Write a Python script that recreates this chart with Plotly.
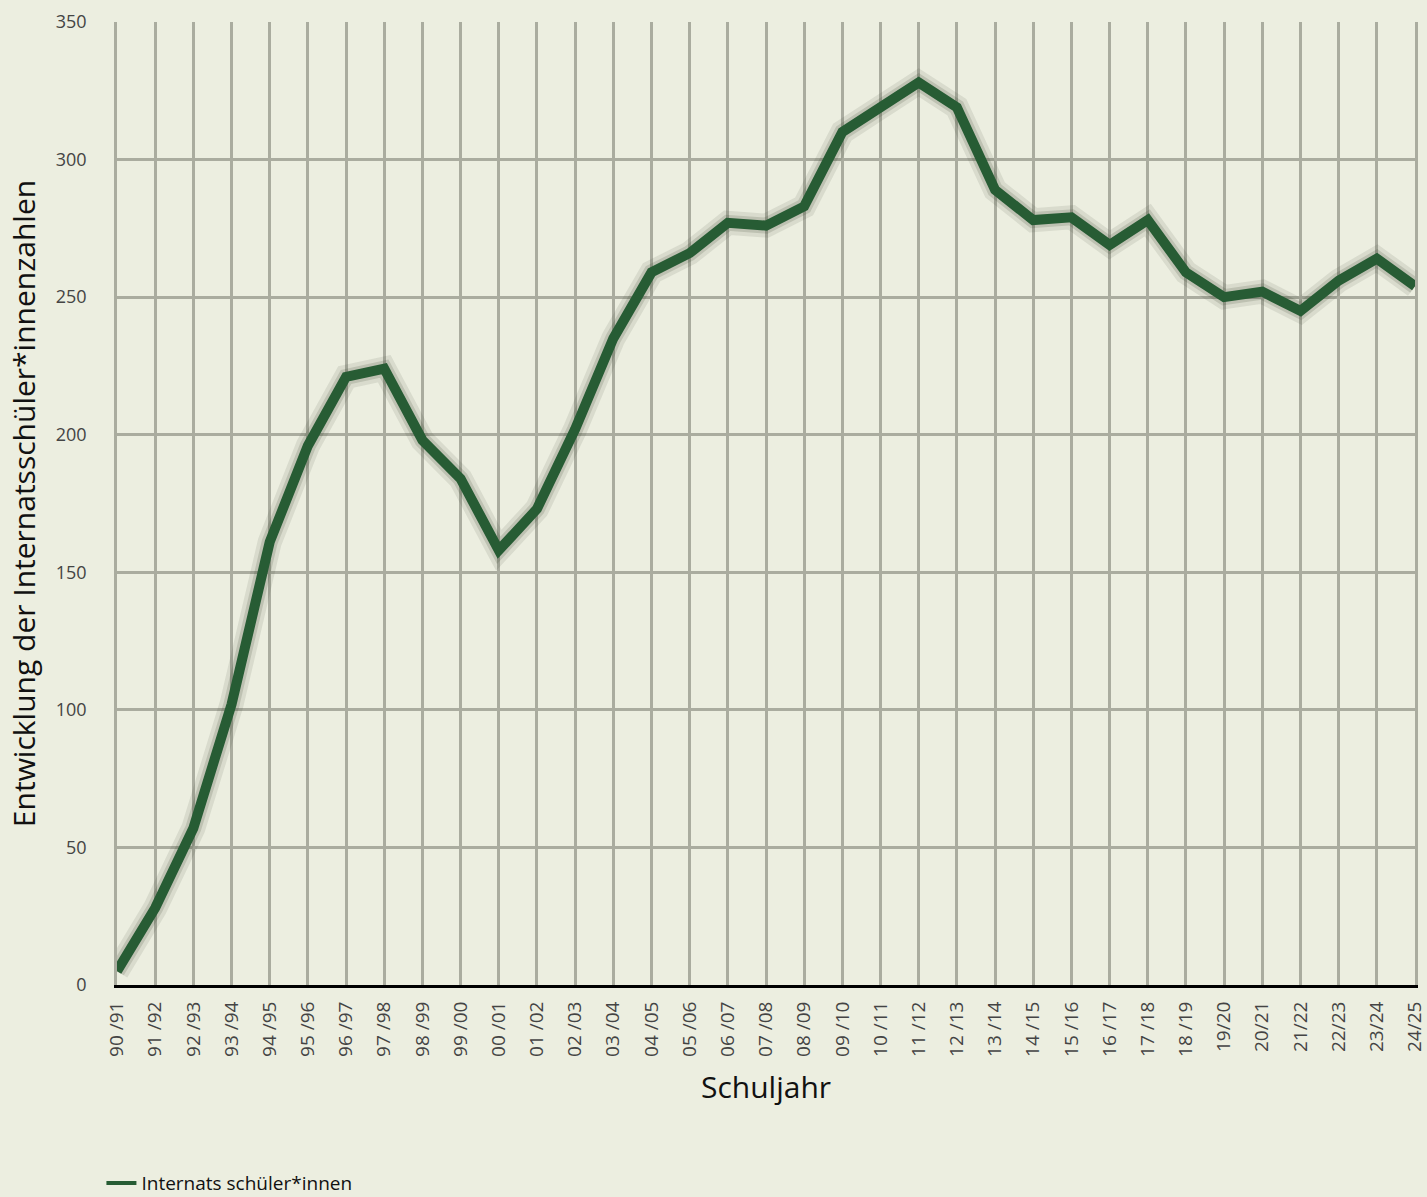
import plotly.graph_objects as go

schuljahre = ["90 /91", "91 /92", "92 /93", "93 /94", "94 /95", "95 /96", "96 /97", "97 /98",
              "98 /99", "99 /00", "00 /01", "01 /02", "02 /03", "03 /04", "04 /05", "05 /06",
              "06 /07", "07 /08", "08 /09", "09 /10", "10 /11", "11 /12", "12 /13", "13 /14",
              "14 /15", "15 /16", "16 /17", "17 /18", "18 /19", "19/20", "20/21", "21/22",
              "22/23", "23/24", "24/25"]
schueler = [5, 28, 57, 102, 161, 196, 221, 224, 198, 184, 158, 173, 202, 235, 259, 266,
            277, 276, 283, 310, 319, 328, 319, 289, 278, 279, 269, 278, 259, 250, 252, 245,
            256, 264, 254]
y_ticks = [0, 50, 100, 150, 200, 250, 300, 350]

BG = "#eceee0"
GRID = "#aaac9f"
GREEN = "#275c34"
FONT = "Open Sans"

fig = go.Figure()
# soft shadow under the line
fig.add_trace(go.Scatter(x=schuljahre, y=schueler, mode="lines",
                         line=dict(color="rgba(50,60,40,0.10)", width=24),
                         showlegend=False, hoverinfo="skip"))
fig.add_trace(go.Scatter(x=schuljahre, y=schueler, mode="lines",
                         line=dict(color="rgba(50,60,40,0.16)", width=16),
                         showlegend=False, hoverinfo="skip"))
fig.add_trace(go.Scatter(x=schuljahre, y=schueler, mode="lines",
                         name="Internats schüler*innen", showlegend=False,
                         line=dict(color=GREEN, width=10)))
# legend entry (thin sample line)
fig.add_trace(go.Scatter(x=[None], y=[None], mode="lines",
                         name="Internats schüler*innen",
                         line=dict(color=GREEN, width=4)))

fig.update_layout(
    width=1427, height=1197,
    paper_bgcolor=BG, plot_bgcolor=BG,
    margin=dict(l=117, r=12, t=22, b=212, autoexpand=False),
    font=dict(family=FONT, color="#444444"),
    showlegend=True,
    legend=dict(orientation="h", x=-0.012, xanchor="left", y=-0.186, yanchor="top",
                font=dict(family=FONT, size=19, color="#111111"),
                bgcolor="rgba(0,0,0,0)", itemwidth=30),
    xaxis=dict(
        type="category", categoryorder="array", categoryarray=schuljahre,
        range=[0, len(schuljahre) - 1], automargin=False,
        showgrid=True, gridcolor=GRID, gridwidth=2.5,
        showline=True, linecolor="#000000", linewidth=3,
        ticks="", tickangle=-90, tickfont=dict(family=FONT, size=19, color="#444444"),
        ticklabelstandoff=6,
        title=dict(text="Schuljahr", font=dict(family=FONT, size=30, color="#111111"),
                   standoff=22),
        zeroline=False, fixedrange=True,
    ),
    yaxis=dict(
        range=[0, 350], tickvals=y_ticks, automargin=False,
        showgrid=True, gridcolor=GRID, gridwidth=2.5,
        showline=True, linecolor=GRID, linewidth=2.5, mirror=True,
        zeroline=False,
        ticks="", tickfont=dict(family=FONT, size=18, color="#444444"),
        ticklabelstandoff=24,
        title=dict(text="Entwicklung der Internatsschüler*innenzahlen",
                   font=dict(family=FONT, size=30, color="#111111"), standoff=12),
        fixedrange=True,
    ),
)

fig.write_html(
    "out.html",
    config={"displayModeBar": False},
    post_script="document.body.style.margin='0';document.body.style.background='#eceee0';",
)
